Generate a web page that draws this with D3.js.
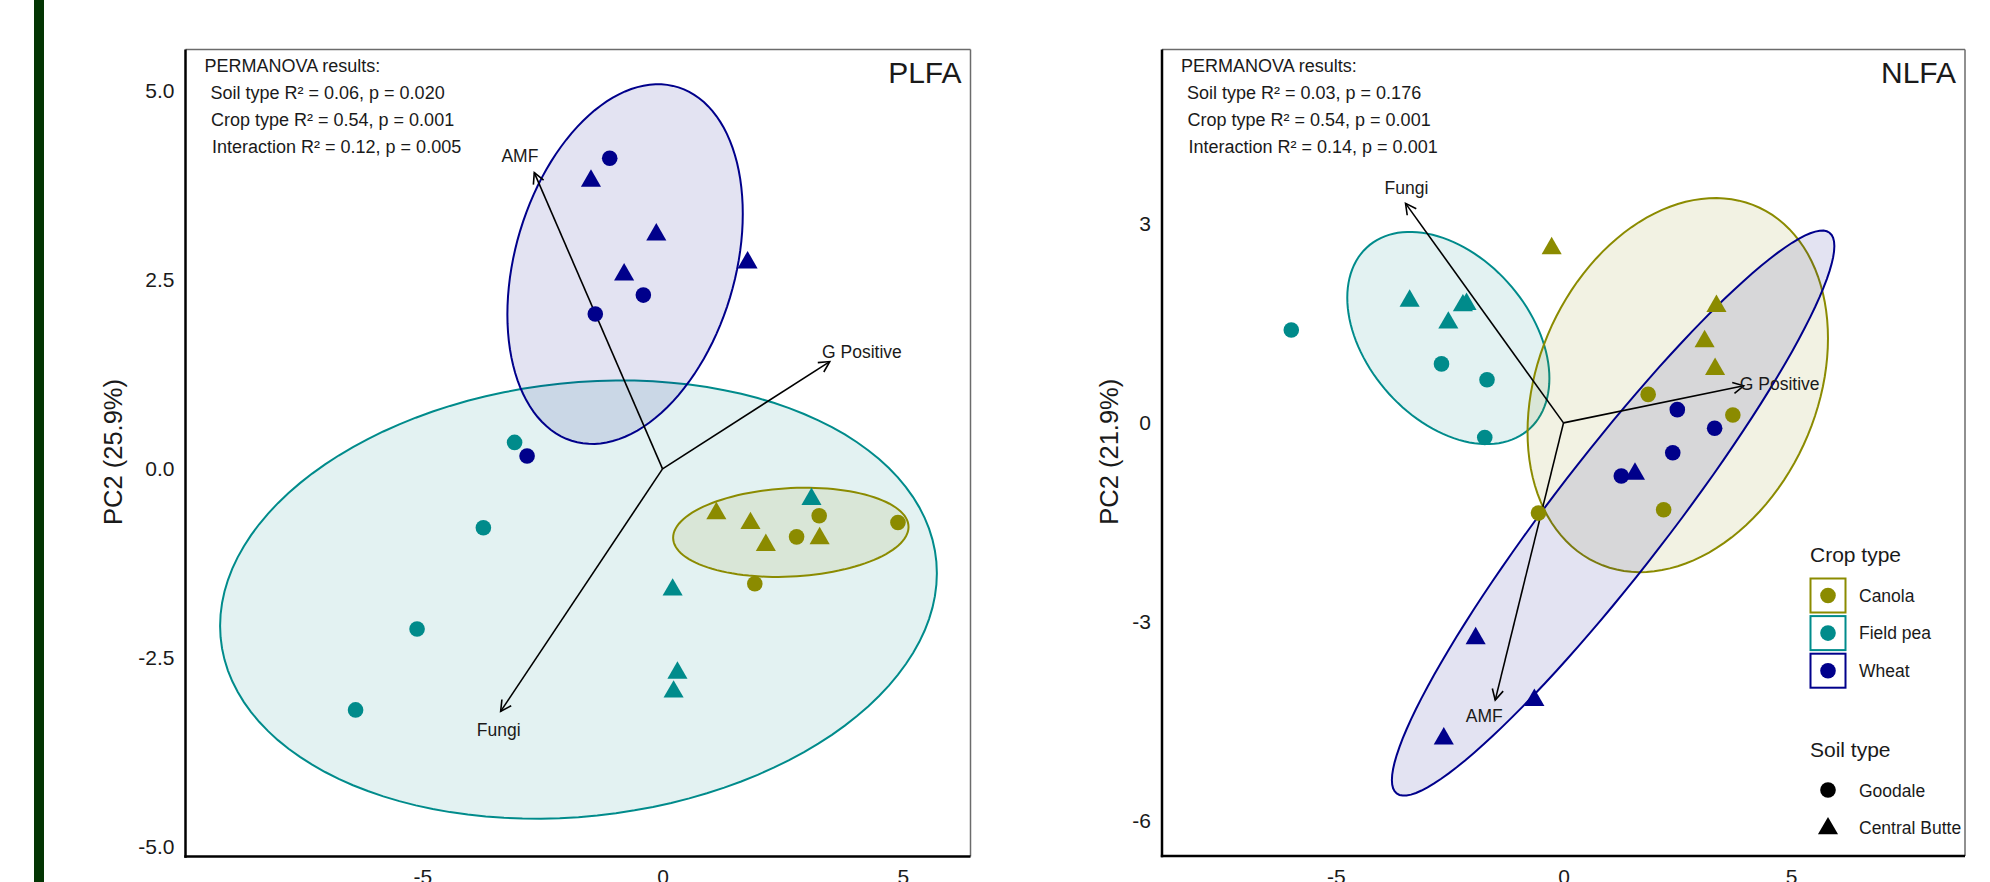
<!DOCTYPE html>
<html><head><meta charset="utf-8">
<script src="https://cdn.jsdelivr.net/npm/d3@7"></script>
<style>
body{margin:0;background:#fff;}
svg{display:block;}
text{font-family:"Liberation Sans",Arial,Helvetica,sans-serif;fill:#1a1a1a;}
</style>
</head><body>
<svg id="chart" width="1990" height="882"></svg>
<script>
// ---------------- data ----------------
const crops = ["Canola", "Field pea", "Wheat"];
const cropColors = ["#8B8B00", "#008B8B", "#00008B"];
const soils = ["Goodale", "Central Butte"];

// [PC1, PC2, crop index, soil index]
const plfaPoints = [
  [-1.10, 4.11, 2, 0], [-1.49, 3.81, 2, 1], [-0.13, 3.10, 2, 1], [1.77, 2.73, 2, 1],
  [-0.80, 2.57, 2, 1], [-0.40, 2.30, 2, 0], [-1.40, 2.05, 2, 0], [-2.82, 0.17, 2, 0],
  [-3.08, 0.35, 1, 0], [-3.73, -0.78, 1, 0], [-5.11, -2.12, 1, 0], [-6.39, -3.19, 1, 0],
  [0.21, -1.60, 1, 1], [0.31, -2.70, 1, 1], [0.23, -2.95, 1, 1], [3.10, -0.40, 1, 1],
  [1.12, -0.59, 0, 1], [1.83, -0.72, 0, 1], [2.15, -1.01, 0, 1], [3.27, -0.92, 0, 1],
  [3.26, -0.62, 0, 0], [2.79, -0.90, 0, 0], [4.90, -0.71, 0, 0], [1.92, -1.52, 0, 0]
];
const nlfaPoints = [
  [-5.98, 1.40, 1, 0], [-3.38, 1.84, 1, 1], [-2.21, 1.77, 1, 1], [-2.13, 1.79, 1, 1],
  [-2.53, 1.51, 1, 1], [-2.68, 0.89, 1, 0], [-1.68, 0.65, 1, 0], [-1.73, -0.22, 1, 0],
  [-0.26, 2.63, 0, 1], [3.36, 1.76, 0, 1], [3.10, 1.23, 0, 1], [3.33, 0.81, 0, 1],
  [1.86, 0.43, 0, 0], [3.72, 0.12, 0, 0], [-0.55, -1.36, 0, 0], [2.20, -1.31, 0, 0],
  [2.50, 0.20, 2, 0], [3.32, -0.08, 2, 0], [2.40, -0.45, 2, 0], [1.27, -0.80, 2, 0],
  [1.57, -0.77, 2, 1], [-1.93, -3.25, 2, 1], [-0.64, -4.18, 2, 1], [-2.63, -4.76, 2, 1]
];

// ellipses: [crop index, centre PC1, centre PC2, half-width, half-height, correlation]
const plfaEllipses = [
  [1, -1.75, -1.73, 7.46, 2.90, 0.12],
  [0, 2.67, -0.84, 2.45, 0.59, 0.12],
  [2, -0.78, 2.71, 2.45, 2.38, 0.28]
];
const nlfaEllipses = [
  [1, -2.53, 1.28, 2.22, 1.60, -0.38],
  [0, 2.51, 0.57, 3.30, 2.82, 0.25],
  [2, 1.09, -1.36, 4.86, 4.26, 0.945]
];

// loadings arrows: [label, tip PC1, tip PC2, label PC1, label PC2]
const plfaArrows = [
  ["AMF", -2.67, 3.92, -2.97, 4.14],
  ["G Positive", 3.48, 1.42, 4.15, 1.55],
  ["Fungi", -3.37, -3.21, -3.41, -3.45]
];
const nlfaArrows = [
  ["Fungi", -3.47, 3.31, -3.45, 3.55],
  ["G Positive", 3.96, 0.56, 4.75, 0.59],
  ["AMF", -1.50, -4.18, -1.74, -4.41]
];

const plfaStats = ["PERMANOVA results:", "Soil type R\u00B2 = 0.06, p = 0.020",
  "Crop type R\u00B2 = 0.54, p = 0.001", "Interaction R\u00B2 = 0.12, p = 0.005"];
const nlfaStats = ["PERMANOVA results:", "Soil type R\u00B2 = 0.03, p = 0.176",
  "Crop type R\u00B2 = 0.54, p = 0.001", "Interaction R\u00B2 = 0.14, p = 0.001"];

const plfaXTicks = [-5, 0, 5];
const plfaXTickLabels = ["-5", "0", "5"];
const plfaYTicks = [-5, -2.5, 0, 2.5, 5];
const plfaYTickLabels = ["-5.0", "-2.5", "0.0", "2.5", "5.0"];
const nlfaXTicks = [-5, 0, 5];
const nlfaXTickLabels = ["-5", "0", "5"];
const nlfaYTicks = [-6, -3, 0, 3];
const nlfaYTickLabels = ["-6", "-3", "0", "3"];

const plfaXDomain = [-9.93, 6.41];
const plfaYDomain = [-5.13, 5.55];
const nlfaXDomain = [-8.82, 8.82];
const nlfaYDomain = [-6.53, 5.63];

const plfaTitle = "PLFA", nlfaTitle = "NLFA";
const plfaYLabel = "PC2 (25.9%)", nlfaYLabel = "PC2 (21.9%)";
const legendCropTitle = "Crop type", legendSoilTitle = "Soil type";

// ---------------- drawing ----------------
const svg = d3.select("#chart");
svg.append("rect").attr("x", 34).attr("y", 0).attr("width", 10).attr("height", 882).attr("fill", "#033503");

function drawPanel(o) {
  const x = d3.scaleLinear().domain(o.xDomain).range([o.x0, o.x1]);
  const y = d3.scaleLinear().domain(o.yDomain).range([o.y1, o.y0]);
  const g = svg.append("g");

  // ellipses
  const line = d3.line().x(d => x(d[0])).y(d => y(d[1])).curve(d3.curveLinearClosed);
  o.ellipses.forEach(e => {
    const [ci, cx, cy, hw, hh, r] = e;
    const pts = d3.range(0, 120).map(i => {
      const t = i / 120 * 2 * Math.PI;
      return [cx + hw * Math.cos(t), cy + hh * (r * Math.cos(t) + Math.sqrt(1 - r * r) * Math.sin(t))];
    });
    g.append("path").attr("d", line(pts))
      .attr("fill", cropColors[ci]).attr("fill-opacity", 0.11)
      .attr("stroke", cropColors[ci]).attr("stroke-width", 2);
  });

  // arrows
  o.arrows.forEach(a => {
    const [lab, tx, ty, lx, ly] = a;
    const X0 = x(0), Y0 = y(0), X1 = x(tx), Y1 = y(ty);
    g.append("line").attr("x1", X0).attr("y1", Y0).attr("x2", X1).attr("y2", Y1)
      .attr("stroke", "#000").attr("stroke-width", 1.6);
    const ang = Math.atan2(Y1 - Y0, X1 - X0);
    const L = 12, w = Math.PI / 6.5;
    const p = `M${X1 - L * Math.cos(ang - w)},${Y1 - L * Math.sin(ang - w)}L${X1},${Y1}L${X1 - L * Math.cos(ang + w)},${Y1 - L * Math.sin(ang + w)}`;
    g.append("path").attr("d", p).attr("fill", "none").attr("stroke", "#000").attr("stroke-width", 1.6);
    g.append("text").attr("x", x(lx)).attr("y", y(ly)).attr("dy", "0.35em")
      .attr("text-anchor", "middle").attr("font-size", 17.5).text(lab);
  });

  // points
  const tri = d3.symbol(d3.symbolTriangle, 175);
  o.points.forEach(p => {
    const [px, py, ci, si] = p;
    if (si === 0) {
      g.append("circle").attr("cx", x(px)).attr("cy", y(py)).attr("r", 7.8).attr("fill", cropColors[ci]);
    } else {
      g.append("path").attr("d", tri()).attr("transform", `translate(${x(px)},${y(py)})`).attr("fill", cropColors[ci]);
    }
  });

  // frame
  g.append("line").attr("x1", o.x0).attr("x2", o.x1).attr("y1", o.y0).attr("y2", o.y0).attr("stroke", "#6b6b6b").attr("stroke-width", 1.5);
  g.append("line").attr("x1", o.x1).attr("x2", o.x1).attr("y1", o.y0).attr("y2", o.y1).attr("stroke", "#6b6b6b").attr("stroke-width", 1.5);
  g.append("line").attr("x1", o.x0).attr("x2", o.x0).attr("y1", o.y0).attr("y2", o.y1 + 1.2).attr("stroke", "#000").attr("stroke-width", 2.5);
  g.append("line").attr("x1", o.x0 - 1.2).attr("x2", o.x1).attr("y1", o.y1).attr("y2", o.y1).attr("stroke", "#000").attr("stroke-width", 2.5);

  // axes
  const ay = g.append("g").attr("transform", `translate(${o.x0},0)`)
    .call(d3.axisLeft(y).tickValues(o.yTicks).tickSize(0).tickPadding(11)
      .tickFormat((d, i) => o.yTickLabels[i]));
  ay.select(".domain").remove();
  ay.selectAll("text").attr("font-size", 21).attr("font-family", null).style("fill", "#1a1a1a");
  const ax = g.append("g").attr("transform", `translate(0,${o.y1})`)
    .call(d3.axisBottom(x).tickValues(o.xTicks).tickSize(0).tickPadding(13)
      .tickFormat((d, i) => o.xTickLabels[i]));
  ax.select(".domain").remove();
  ax.selectAll("text").attr("font-size", 21).attr("font-family", null).style("fill", "#1a1a1a");

  // y title
  g.append("text").attr("transform", `translate(${o.titleX},${(o.y0 + o.y1) / 2 - 1}) rotate(-90)`)
    .attr("text-anchor", "middle").attr("font-size", 25.5).text(o.yLabel);

  // panel title
  g.append("text").attr("x", o.x1 - 9).attr("y", 83).attr("text-anchor", "end")
    .attr("font-size", 30).text(o.title);

  // stats text
  const offs = [19, 25, 25.5, 26.5];
  o.stats.forEach((s, i) => {
    g.append("text").attr("x", o.x0 + offs[i]).attr("y", 72 + i * 27)
      .attr("font-size", 18).text(s);
  });
  return { x, y };
}

drawPanel({
  x0: 185.5, x1: 970.5, y0: 49.5, y1: 856.5, titleX: 122,
  xDomain: plfaXDomain, yDomain: plfaYDomain, points: plfaPoints, ellipses: plfaEllipses,
  arrows: plfaArrows, stats: plfaStats, xTicks: plfaXTicks, xTickLabels: plfaXTickLabels,
  yTicks: plfaYTicks, yTickLabels: plfaYTickLabels, title: plfaTitle, yLabel: plfaYLabel
});
drawPanel({
  x0: 1162, x1: 1965, y0: 49.5, y1: 856, titleX: 1118,
  xDomain: nlfaXDomain, yDomain: nlfaYDomain, points: nlfaPoints, ellipses: nlfaEllipses,
  arrows: nlfaArrows, stats: nlfaStats, xTicks: nlfaXTicks, xTickLabels: nlfaXTickLabels,
  yTicks: nlfaYTicks, yTickLabels: nlfaYTickLabels, title: nlfaTitle, yLabel: nlfaYLabel
});

// legend
const lg = svg.append("g");
lg.append("text").attr("x", 1810).attr("y", 562).attr("font-size", 21).text(legendCropTitle);
crops.forEach((c, i) => {
  const cy = 595.5 + i * 37.6;
  lg.append("rect").attr("x", 1810.5).attr("y", cy - 17).attr("width", 35).attr("height", 34)
    .attr("fill", "#fff").attr("stroke", cropColors[i]).attr("stroke-width", 2);
  lg.append("circle").attr("cx", 1828).attr("cy", cy).attr("r", 7.8).attr("fill", cropColors[i]);
  lg.append("text").attr("x", 1859).attr("y", cy + 6.3).attr("font-size", 17.5).text(c);
});
lg.append("text").attr("x", 1810).attr("y", 757).attr("font-size", 21).text(legendSoilTitle);
const triL = d3.symbol(d3.symbolTriangle, 175);
soils.forEach((s, i) => {
  const cy = 790 + i * 37.5;
  if (i === 0) lg.append("circle").attr("cx", 1828).attr("cy", cy).attr("r", 7.8).attr("fill", "#000");
  else lg.append("path").attr("d", triL()).attr("transform", `translate(1828,${cy + 1})`).attr("fill", "#000");
  lg.append("text").attr("x", 1859).attr("y", cy + 6.5).attr("font-size", 17.5).text(s);
});
</script>
</body></html>
